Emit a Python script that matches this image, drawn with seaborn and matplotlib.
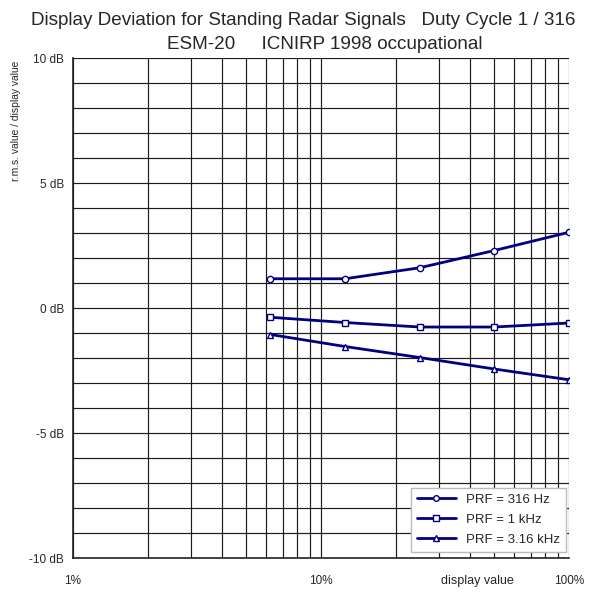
import pandas as pd
import matplotlib
matplotlib.use("Agg")
import matplotlib.pyplot as plt
from matplotlib.ticker import FixedLocator, NullFormatter
import seaborn as sns

# --- data ---
display_pct = [6.25, 12.5, 25, 50, 100]
dev_316hz = [1.17, 1.17, 1.61, 2.30, 3.03]
dev_1khz = [-0.37, -0.58, -0.76, -0.76, -0.60]
dev_3k16hz = [-1.06, -1.54, -1.98, -2.44, -2.87]
series_names = ["PRF = 316 Hz", "PRF = 1 kHz", "PRF = 3.16 kHz"]
series_markers = ["o", "s", "^"]

NAVY = "#000080"

sns.set_style("white")
plt.rcParams["font.family"] = ["Liberation Sans", "DejaVu Sans"]

rows = []
for name, vals in zip(series_names, [dev_316hz, dev_1khz, dev_3k16hz]):
    for x, y in zip(display_pct, vals):
        rows.append({"display": x, "dev": y, "serie": name})
df = pd.DataFrame(rows)

fig = plt.figure(figsize=(5.89, 5.92), dpi=100)
ax = fig.add_axes([0.124, 0.0574, 0.842, 0.8446])
ax.set_xscale("log")

# grid first so the curves sit above it
minor_x = [k * d for d in (1, 10) for k in range(2, 10)]
for x in [1, 10, 100] + minor_x:
    ax.axvline(x, color="#1a1a1a", lw=0.85, zorder=1)
for y in range(-10, 11):
    ax.axhline(y, color="#1a1a1a", lw=0.85, zorder=1)

sns.lineplot(data=df, x="display", y="dev", hue="serie", style="serie",
             palette=[NAVY] * 3, markers=dict(zip(series_names, series_markers)),
             dashes=False, lw=2.0, markersize=4.5, markerfacecolor="white",
             markeredgecolor=NAVY, markeredgewidth=1.0, ax=ax, zorder=3)

ax.set_xlim(1, 100)
ax.set_ylim(-10, 10)

ax.xaxis.set_major_locator(FixedLocator([1, 10, 100]))
ax.xaxis.set_minor_locator(FixedLocator(minor_x))
ax.xaxis.set_minor_formatter(NullFormatter())
ax.set_xticklabels(["1%", "10%", "100%"])
ax.set_yticks([-10, -5, 0, 5, 10])
ax.set_yticklabels(["-10 dB", "-5 dB", "0 dB", "5 dB", "10 dB"])

ax.tick_params(axis="both", which="both", direction="inout", color="#222222",
               labelsize=8.5, width=0.9)
ax.tick_params(axis="x", which="major", length=7, pad=9)
ax.tick_params(axis="x", which="minor", length=7)
ax.tick_params(axis="y", which="major", length=7, pad=3)

for side in ["left", "bottom"]:
    ax.spines[side].set_color("#222222")
    ax.spines[side].set_linewidth(1.2)
for side in ["top", "right"]:
    ax.spines[side].set_visible(False)

ax.set_xlabel("")
ax.set_ylabel("")
fig.text(0.027, 0.897, "r.m.s. value / display value", rotation=90,
         ha="center", va="top", fontsize=7.4)
ax.text(0.815, -0.045, "display value", transform=ax.transAxes,
        ha="center", va="center", fontsize=9)

fig.text(0.515, 0.966, "Display Deviation for Standing Radar Signals   Duty Cycle 1 / 316",
         ha="center", va="center", fontsize=13.6)
fig.text(0.552, 0.924, "ESM-20     ICNIRP 1998 occupational",
         ha="center", va="center", fontsize=13.6)

leg = ax.legend(loc="lower right", bbox_to_anchor=(0.994, 0.012), borderaxespad=0,
                fontsize=9.5, frameon=True, fancybox=False, edgecolor="#bbbbbb",
                framealpha=1, handlelength=2.9, borderpad=0.45, labelspacing=0.6,
                markerscale=0.9)
leg.set_zorder(5)

fig.savefig("out.png", dpi=100)
